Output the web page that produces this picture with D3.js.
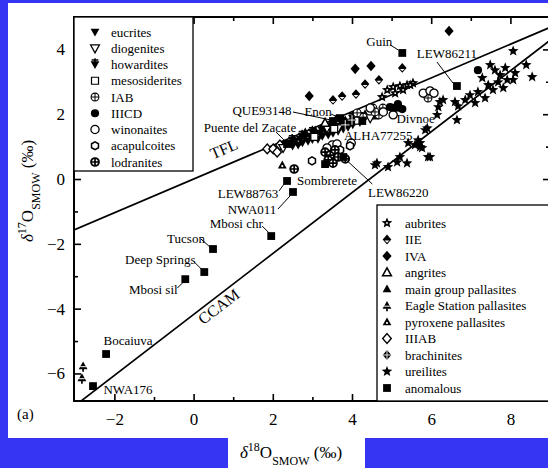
<!DOCTYPE html>
<html lang="en">
<head>
<meta charset="utf-8">
<title>Oxygen isotopes of achondrites</title>
<script src="https://cdn.jsdelivr.net/npm/d3@7"></script>
<style>
  body { margin: 0; background: #fff; }
  svg { display: block; font-family: "Liberation Serif", "Times New Roman", serif; }
</style>
</head>
<body>
<script>
// ---- data (d18O, d17O in permil) ----
var eucrites = [[2.31,1.08],[2.44,1.11],[2.56,1.17],[2.69,1.23],[2.82,1.30],[2.94,1.33],[3.07,1.39],[3.19,1.42],
  [3.32,1.48],[3.45,1.54],[3.57,1.60],[3.70,1.64],[3.83,1.70],[3.95,1.76],[4.08,1.79],[3.14,1.23],[3.40,1.36],
  [3.65,1.48],[3.90,1.60],[2.64,1.05],[2.89,1.17],[2.50,1.02],[2.75,1.12],[3.00,1.22],[3.25,1.32],[3.52,1.42],
  [3.78,1.55],[4.02,1.68],[4.20,1.75]];
var diogenites = [[3.37,1.57],[3.65,1.57],[2.26,0.96],[4.46,1.88]];
var howardites = [[3.00,1.45],[3.24,1.51],[3.50,1.64],[3.75,1.76],[2.74,1.33],[2.49,1.20],[4.01,1.88],[4.20,1.91]];
var mesosiderites = [[3.05,1.30],[3.55,1.55],[4.15,1.80]];
var iab = [[4.53,2.19],[4.68,1.98],[4.28,1.91],[4.13,2.04],[4.58,2.07],[4.78,2.19],[5.92,2.50]];
var iiicd = [[4.96,2.22],[5.16,2.31],[5.27,2.16],[7.18,3.36]];
var winonaites = [[5.80,2.65],[5.97,2.72],[6.07,2.65],[4.79,2.07],[5.04,1.98],[4.46,2.19],[3.50,1.05],[3.62,1.08],
  [3.98,1.11],[3.37,0.96]];
var acapulcoites = [[2.99,0.56],[3.70,0.90],[3.95,1.02]];
var lodranites = [[3.83,0.62],[3.45,0.62],[2.54,0.31],[3.32,0.83],[3.45,0.74],[3.57,0.90],[3.40,0.59],[3.52,0.49],[3.65,0.68]];
var aubrites = [[4.89,2.75],[5.04,2.84],[5.21,2.87],[5.39,2.90],[5.54,2.96],[5.09,2.65],[4.76,2.53],[5.29,2.75],[5.47,2.90]];
var iie = [[3.52,2.44],[3.75,2.56],[4.10,2.62],[4.33,2.93],[4.68,3.06],[5.27,3.43]];
var iva = [[6.45,4.57],[4.08,3.40],[4.48,3.49],[2.92,2.56]];
var angrites = [[3.60,1.82],[3.32,1.73]];
var mainPallasites = [[2.82,1.45],[3.07,1.51],[3.32,1.64],[3.57,1.73],[3.83,1.82],[4.08,1.91],[4.33,2.01],[4.58,1.94]];
var eagleStation = [[-2.79,-5.77],[-2.82,-6.14]];
var pyroxenePallasites = [[2.24,0.43]];
var iiiab = [[1.86,0.93],[2.01,0.93],[2.18,1.05],[2.69,1.20],[2.11,0.83]];
var brachinites = [[4.00,1.82],[3.83,1.67]];
var ureilites = [[4.63,0.49],[4.91,0.37],[5.14,0.52],[5.39,0.49],[5.21,0.68],[5.92,0.68],[5.42,1.11],[5.59,1.05],
  [5.72,0.99],[5.67,1.20],[5.90,1.57],[6.15,1.98],[6.65,1.82],[6.18,2.22],[6.30,2.44],[8.07,3.95],[8.40,3.52],
  [8.55,3.15],[8.12,3.27],[8.07,3.06],[7.49,3.52],[7.61,3.36],[7.74,3.21],[7.87,3.43],[7.69,2.99],[7.44,2.90],
  [7.82,2.81],[7.29,3.12],[7.56,2.75],[7.92,3.06],[6.98,2.59],[7.18,2.69],[7.36,2.50],[7.11,2.35],[6.86,2.44],
  [6.60,2.38],[6.68,2.25],[6.22,2.38],[5.85,1.51],[5.72,1.11],[5.77,0.96],[5.97,0.68],[4.58,0.43]];

// anomalous meteorites, named
var anomNames = ["Guin","LEW86211","LEW88763","NWA011","Mbosi chr","Tucson","Deep Springs","Mbosi sil",
  "Bocaiuva","NWA176","Sombrerete","LEW86220","QUE93148","Enon","Puente del Zacate","ALHA77255","Divnoe"];
var anomX = [5.27,6.65,2.36,2.51,1.96,0.49,0.27,-0.21,-2.21,-2.54,3.32,3.78,3.52,3.70,2.36,4.26,5.10];
var anomY = [3.89,2.87,-0.06,-0.40,-1.76,-2.16,-2.87,-3.09,-5.40,-6.39,0.46,0.68,1.79,1.88,1.08,1.79,2.20];

// reference lines: d17O = slope * d18O + intercept
var lineNames = ["TFL","CCAM"];
var lineSlopes = [0.52, 0.94];
var lineIntercepts = [0, -4.18];

var xMajor = [-2,0,2,4,6,8], xMinor = [-1,1,3,5,7];
var yMajor = [-6,-4,-2,0,2,4], yMinor = [-5,-3,-1,1,3];

var legendLeft = ["eucrites","diogenites","howardites","mesosiderites","IAB","IIICD","winonaites","acapulcoites","lodranites"];
var legendRight = ["aubrites","IIE","IVA","angrites","main group pallasites","Eagle Station pallasites",
  "pyroxene pallasites","IIIAB","brachinites","ureilites","anomalous"];

// ---- layout ----
var w = 548, h = 468;
var pLeft = 74, pRight = 550, pTop = 17, pBottom = 401;

var x = d3.scaleLinear().domain([-3.02, 9.0]).range([pLeft, pRight]);
var y = d3.scaleLinear().domain([-6.85, 5]).range([pBottom, pTop]);

var svg = d3.select("body").append("svg").attr("width", w).attr("height", h);

// blue page background with white paper
svg.append("rect").attr("width", w).attr("height", h).attr("fill", "#3535f3");
svg.append("rect").attr("x", 8).attr("y", 3).attr("width", w - 8).attr("height", 435).attr("fill", "#fff");
svg.append("rect").attr("x", 228).attr("y", 437).attr("width", 137).attr("height", 31).attr("fill", "#fff");

svg.append("clipPath").attr("id", "plotclip").append("rect")
  .attr("x", pLeft).attr("y", pTop).attr("width", pRight - pLeft).attr("height", pBottom - pTop);

// marker shapes
function starPath(R, r) {
  var p = [];
  for (var i = 0; i < 10; i++) {
    var a = -Math.PI / 2 + i * Math.PI / 5, rr = i % 2 ? r : R;
    p.push([rr * Math.cos(a), rr * Math.sin(a)]);
  }
  return "M" + p.join("L") + "Z";
}
var S = 4.4;
var triUp = "M0," + (-S * 1.05) + "L" + S + "," + (S * 0.75) + "L" + (-S) + "," + (S * 0.75) + "Z";
var triDown = "M0," + (S * 1.05) + "L" + S + "," + (-S * 0.75) + "L" + (-S) + "," + (-S * 0.75) + "Z";
var diamond = "M0,-4.9L4.3,0L0,4.9L-4.3,0Z";
var hexagon = d3.range(6).map(function(i) {
  var a = Math.PI / 6 + i * Math.PI / 3; return [4 * Math.cos(a), 4 * Math.sin(a)];
});
var hexPath = "M" + hexagon.join("L") + "Z";

function drawMarker(g, kind) {
  function p(d, fill, stroke, sw) {
    g.append("path").attr("d", d).attr("fill", fill).attr("stroke", stroke || "none").attr("stroke-width", sw || 0);
  }
  switch (kind) {
    case "eucrites": p(triDown, "#000"); break;
    case "diogenites": p(triDown, "#fff", "#000", 1.3); break;
    case "howardites":
      p(triDown, "#000");
      p("M-3.4,-4.4L3.4,-4.4M0,-6.2L0,-2", "none", "#000", 1.5); break;
    case "mesosiderites": p("M-3.5,-3.5H3.5V3.5H-3.5Z", "#fff", "#000", 1.2); break;
    case "IAB":
      g.append("circle").attr("r", 3.9).attr("fill", "#fff").attr("stroke", "#000").attr("stroke-width", 1.1);
      p("M-3.9,0H3.9M0,-3.9V3.9", "none", "#000", 1); break;
    case "IIICD": g.append("circle").attr("r", 4.1).attr("fill", "#000"); break;
    case "winonaites": g.append("circle").attr("r", 4.1).attr("fill", "#fff").attr("stroke", "#000").attr("stroke-width", 1.3); break;
    case "acapulcoites": p(hexPath, "#fff", "#000", 1.5); break;
    case "lodranites":
      g.append("circle").attr("r", 3.9).attr("fill", "#fff").attr("stroke", "#000").attr("stroke-width", 1.9);
      p("M-3.9,0H3.9M0,-3.9V3.9", "none", "#000", 1.7); break;
    case "aubrites":
      p(starPath(5.6, 2.5), "#000");
      g.append("circle").attr("r", 0.9).attr("fill", "#fff"); break;
    case "IIE":
      p(diamond, "#000");
      p("M-2.4,1L2.4,1L0,3.2Z", "#fff"); break;
    case "IVA": p("M0,-5.3L4.6,0L0,5.3L-4.6,0Z", "#000"); break;
    case "angrites": p(triUp, "#fff", "#000", 1.5); break;
    case "main group pallasites": p(triUp, "#000"); break;
    case "Eagle Station pallasites":
      p(triUp, "#000");
      p("M-2.8,0.7L2.8,0.7", "none", "#fff", 1);
      p("M0,3L0,5.8", "none", "#000", 1.7); break;
    case "pyroxene pallasites":
      p(triUp, "#000");
      g.append("circle").attr("cy", 1).attr("r", 1.1).attr("fill", "#fff"); break;
    case "IIIAB": p(diamond, "#fff", "#000", 1.4); break;
    case "brachinites":
      p(diamond, "#000");
      p("M-4.3,0H4.3M0,-4.9V4.9", "none", "#fff", 0.9); break;
    case "ureilites": p(starPath(5.6, 2.4), "#000"); break;
    case "anomalous": p("M-3.9,-3.9H3.9V3.9H-3.9Z", "#000"); break;
  }
}

// ---- reference lines ----
var lines = svg.append("g").attr("clip-path", "url(#plotclip)");
lineNames.forEach(function(name, i) {
  var x0 = x.domain()[0], x1 = x.domain()[1];
  lines.append("line")
    .attr("x1", x(x0)).attr("y1", y(lineSlopes[i] * x0 + lineIntercepts[i]))
    .attr("x2", x(x1)).attr("y2", y(lineSlopes[i] * x1 + lineIntercepts[i]))
    .attr("stroke", "#000").attr("stroke-width", 1.7);
});

function slopeAngle(i) {
  var dx = x(1) - x(0), dy = y(lineSlopes[i]) - y(0);
  return Math.atan2(dy, dx) * 180 / Math.PI;
}
svg.append("text").attr("transform", "translate(226,154) rotate(" + slopeAngle(0) + ")")
  .attr("text-anchor", "middle").attr("font-size", 16).text("TFL");
svg.append("text").attr("transform", "translate(222,311) rotate(" + slopeAngle(1) + ")")
  .attr("text-anchor", "middle").attr("font-size", 16).text("CCAM");

// ---- points ----
var groups = [
  ["ureilites", ureilites], ["aubrites", aubrites], ["IIIAB", iiiab], ["eucrites", eucrites],
  ["howardites", howardites], ["main group pallasites", mainPallasites], ["diogenites", diogenites],
  ["mesosiderites", mesosiderites], ["angrites", angrites], ["brachinites", brachinites], ["IAB", iab],
  ["winonaites", winonaites], ["acapulcoites", acapulcoites], ["lodranites", lodranites], ["IIICD", iiicd],
  ["IIE", iie], ["IVA", iva], ["Eagle Station pallasites", eagleStation], ["pyroxene pallasites", pyroxenePallasites]
];
var pts = svg.append("g");
groups.forEach(function(gr) {
  pts.selectAll(null).data(gr[1]).enter().append("g")
    .attr("transform", function(d) { return "translate(" + x(d[0]) + "," + y(d[1]) + ")"; })
    .each(function() { drawMarker(d3.select(this), gr[0]); });
});

var anomalous = anomNames.map(function(n, i) { return {name: n, x: anomX[i], y: anomY[i]}; });
pts.selectAll(null).data(anomalous).enter().append("g")
  .attr("transform", function(d) { return "translate(" + x(d.x) + "," + y(d.y) + ")"; })
  .each(function() { drawMarker(d3.select(this), "anomalous"); });

// label placement relative to the square (pixels): text centre and leader line
var labelAt = {
  "Guin": [-23, -12, [-12, -8, -4, -3]],
  "LEW86211": [-10, -33, [-20, -24, -4, -3]],
  "LEW88763": [-39, 12, [-8, 10, -3, 3]],
  "NWA011": [-41, 17, [-15, 17, -3, 4]],
  "Mbosi chr": [-35, -13, [-9, -10, -2, -3]],
  "Tucson": [-27, -11, [-12, -10, -3, -2]],
  "Deep Springs": [-44, -13, [-10, -10, -3, -3]],
  "Mbosi sil": [-32, 10, [-8, 9, -2, 3]],
  "Bocaiuva": [22, -14, null],
  "NWA176": [35, 3, null],
  "Sombrerete": [2, 16, null],
  "LEW86220": [55, 35, [29, 27, 3, 3]],
  "QUE93148": [-71, -11, [-40, -9, -2, -1]],
  "Enon": [-22, -7, [-9, -4, -2, -1]],
  "Puente del Zacate": [-37, -17, [-11, -12, -2, -3]],
  "ALHA77255": [16, 14, null],
  "Divnoe": [20, 11, null]
};
var labels = svg.append("g").attr("font-size", 13);
anomalous.forEach(function(d) {
  var L = labelAt[d.name], px = x(d.x), py = y(d.y);
  labels.append("text").attr("x", px + L[0]).attr("y", py + L[1]).attr("dy", "0.35em")
    .attr("text-anchor", "middle").text(d.name);
  if (L[2]) {
    labels.append("line")
      .attr("x1", px + L[2][0]).attr("y1", py + L[2][1]).attr("x2", px + L[2][2]).attr("y2", py + L[2][3])
      .attr("stroke", "#000").attr("stroke-width", 1);
  }
});

// ---- axes (ticks point inward) ----
var fmt = function(d) { return d < 0 ? "\u2212" + Math.abs(d) : d; };
function styleAxis(g) {
  g.select(".domain").remove();
  g.selectAll("line").attr("stroke", "#000").attr("stroke-width", 1.6);
  g.selectAll("text").attr("font-size", 17).attr("fill", "#000").attr("font-family", "Liberation Serif");
}
svg.append("g").attr("transform", "translate(0," + pBottom + ")")
  .call(d3.axisBottom(x).tickValues(xMajor).tickSize(-7).tickPadding(12).tickFormat(fmt)).call(styleAxis);
svg.append("g").attr("transform", "translate(0," + pBottom + ")")
  .call(d3.axisBottom(x).tickValues(xMinor).tickSize(-4).tickFormat("")).call(styleAxis);
svg.append("g").attr("transform", "translate(0," + pTop + ")")
  .call(d3.axisTop(x).tickValues(xMajor).tickSize(-7).tickFormat("")).call(styleAxis);
svg.append("g").attr("transform", "translate(0," + pTop + ")")
  .call(d3.axisTop(x).tickValues(xMinor).tickSize(-4).tickFormat("")).call(styleAxis);
svg.append("g").attr("transform", "translate(" + pLeft + ",0)")
  .call(d3.axisLeft(y).tickValues(yMajor).tickSize(-7).tickPadding(9).tickFormat(fmt)).call(styleAxis);
svg.append("g").attr("transform", "translate(" + pLeft + ",0)")
  .call(d3.axisLeft(y).tickValues(yMinor).tickSize(-4).tickFormat("")).call(styleAxis);
svg.append("g").attr("transform", "translate(" + pRight + ",0)")
  .call(d3.axisRight(y).tickValues(yMajor).tickSize(-7).tickFormat("")).call(styleAxis);
svg.append("g").attr("transform", "translate(" + pRight + ",0)")
  .call(d3.axisRight(y).tickValues(yMinor).tickSize(-4).tickFormat("")).call(styleAxis);

// frame
svg.append("rect").attr("x", pLeft).attr("y", pTop).attr("width", pRight - pLeft).attr("height", pBottom - pTop)
  .attr("fill", "none").attr("stroke", "#000").attr("stroke-width", 2);

// ---- legends ----
svg.append("rect").attr("x", pLeft).attr("y", pTop).attr("width", 119).attr("height", 154)
  .attr("fill", "#fff").attr("stroke", "#000").attr("stroke-width", 1.3);
var lg1 = svg.append("g").selectAll(null).data(legendLeft).enter().append("g")
  .attr("transform", function(d, i) { return "translate(95," + (32 + i * 16.25) + ")"; });
lg1.each(function(d) { drawMarker(d3.select(this), d); });
lg1.append("text").attr("x", 16).attr("dy", "0.35em").attr("font-size", 13).text(function(d) { return d; });

svg.append("rect").attr("x", 377).attr("y", 205).attr("width", 180).attr("height", pBottom - 205)
  .attr("fill", "#fff").attr("stroke", "#000").attr("stroke-width", 1.3);
var lg2 = svg.append("g").selectAll(null).data(legendRight).enter().append("g")
  .attr("transform", function(d, i) { return "translate(387," + (223 + i * 16.5) + ")"; });
lg2.each(function(d) { drawMarker(d3.select(this), d); });
lg2.append("text").attr("x", 18).attr("dy", "0.35em").attr("font-size", 13).text(function(d) { return d; });

// ---- titles ----
function isoTitle(t, mass) {
  t.append("tspan").attr("font-style", "italic").text("\u03b4");
  t.append("tspan").attr("font-size", 12).attr("baseline-shift", "super").text(mass);
  t.append("tspan").text("O");
  t.append("tspan").attr("font-size", 12).attr("baseline-shift", "sub").text("SMOW");
  t.append("tspan").text(" (\u2030)");
}
svg.append("text").attr("x", 291).attr("y", 458).attr("text-anchor", "middle").attr("font-size", 17)
  .call(isoTitle, "18");
svg.append("text").attr("transform", "translate(33,191) rotate(-90)").attr("text-anchor", "middle")
  .attr("font-size", 17).call(isoTitle, "17");

svg.append("text").attr("x", 17).attr("y", 419).attr("font-size", 15).text("(a)");
</script>
</body>
</html>
